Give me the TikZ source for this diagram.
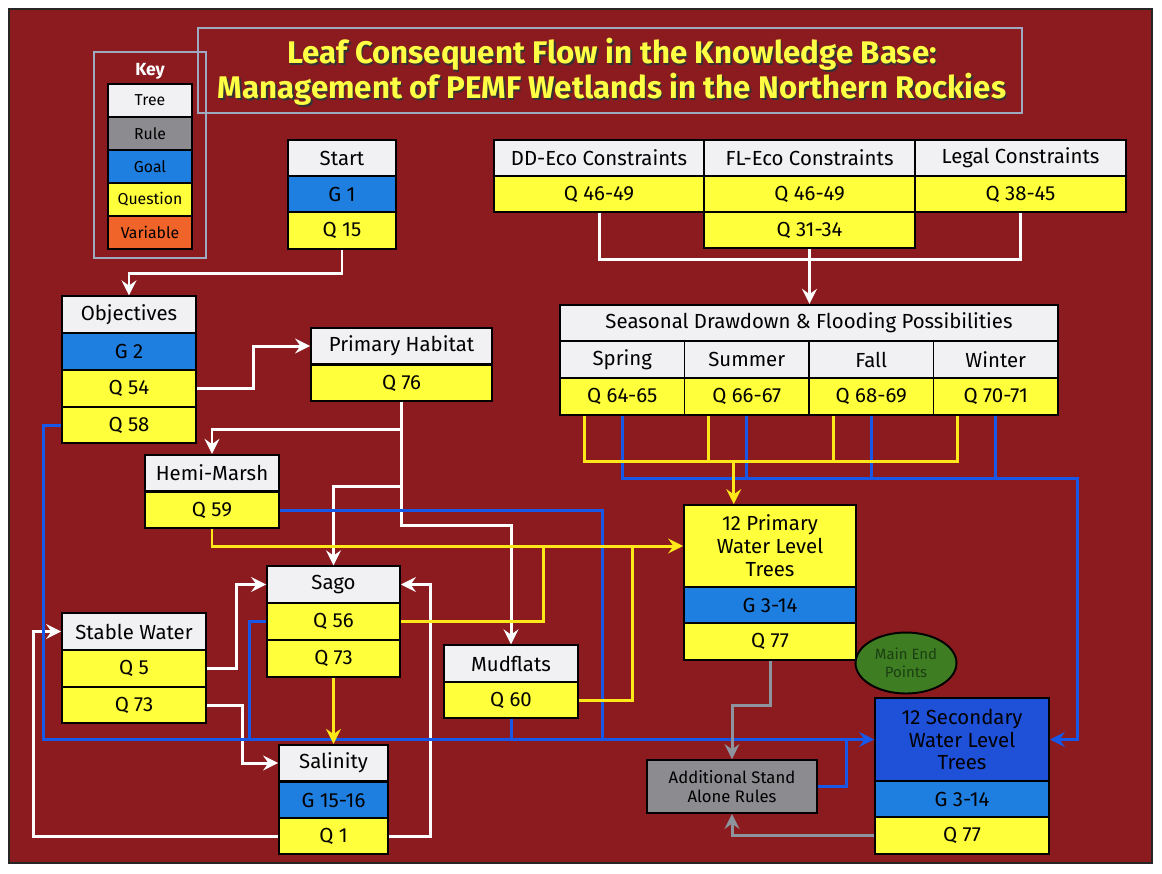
\documentclass[tikz,border=0pt]{standalone}
\usepackage{fontspec}
\setmainfont{Fira Sans}
\usetikzlibrary{arrows.meta,calc,shapes.geometric}

\definecolor{bgred}{HTML}{8C1B20}
\definecolor{treew}{HTML}{F1F1F3}
\definecolor{rulegray}{HTML}{8C8C90}
\definecolor{goalblue}{HTML}{1F7FE0}
\definecolor{qyellow}{HTML}{FFFF3C}
\definecolor{varorange}{HTML}{F0642A}
\definecolor{secblue}{HTML}{1E50D8}
\definecolor{endgreen}{HTML}{3E7D22}
\definecolor{endtext}{HTML}{1B3F12}
\definecolor{lineblue}{HTML}{1858E8}
\definecolor{lineyellow}{HTML}{FFE81A}
\definecolor{linegray}{HTML}{8E949E}
\definecolor{framegray}{HTML}{9EA9C2}
\definecolor{titleyellow}{HTML}{FFFF44}

\tikzset{
  cell/.style={draw=black, line width=1.1pt, inner sep=0pt, minimum height=0.73cm,
    font=\fontsize{11.6}{13}\selectfont, text=black, align=center},
  tree/.style={cell, fill=treew},
  rule/.style={cell, fill=rulegray},
  goal/.style={cell, fill=goalblue},
  quest/.style={cell, fill=qyellow},
  keycell/.style={minimum width=1.68cm, minimum height=0.66cm, font=\fontsize{9}{10}\selectfont},
  titletext/.style={font=\fontsize{17.8}{20}\selectfont\bfseries, align=center, text=titleyellow},
  tip/.style={-{Stealth[length=8.5pt,width=8.5pt,inset=3pt]}},
  wline/.style={draw=white, line width=1.7pt, tip},
  bline/.style={draw=lineblue, line width=1.7pt, tip},
  yline/.style={draw=lineyellow, line width=1.7pt, tip},
  gline/.style={draw=linegray, line width=1.7pt, tip}
}

\begin{document}
\begin{tikzpicture}[x=0.02cm,y=-0.02cm]
    \useasboundingbox (0,0) rectangle (1162,873);
    \fill[white] (0,0) rectangle (1162,873);
    \draw[fill=bgred,draw=black!85,line width=1pt] (9,9) rectangle (1152,863);

    % title and key
    \draw[framegray,line width=1.3pt] (198,28) rectangle (1022,113);
    \node[titletext,text=black!80] (titleshadow) at (613.5,73.5)
        {Leaf Consequent Flow in the Knowledge Base:\\Management of PEMF Wetlands in the Northern Rockies};
    \node[titletext] (title) at (612,72)
        {Leaf Consequent Flow in the Knowledge Base:\\Management of PEMF Wetlands in the Northern Rockies};
    \draw[framegray,line width=1.3pt] (94,52) rectangle (206,258);
    \node[font=\fontsize{10}{11}\selectfont\bfseries,text=white] (key) at (150,71) {Key};
    \node[tree,keycell] (ktree) at (150,100.5) {Tree};
    \node[rule,keycell] (krule) at (150,133.5) {Rule};
    \node[goal,keycell] (kgoal) at (150,166.5) {Goal};
    \node[quest,keycell] (kquest) at (150,199.5) {Question};
    \node[cell,fill=varorange,keycell] (kvar) at (150,232.5) {Variable};

    % trees
    \node[tree,minimum width=2.16cm] (start) at (342,158) {Start};
    \node[goal,minimum width=2.16cm] (g1) at (342,194) {G 1};
    \node[quest,minimum width=2.16cm] (q15) at (342,230.5) {Q 15};

    \node[tree,minimum width=2.68cm] (obj) at (129,314.5) {Objectives};
    \node[goal,minimum width=2.68cm] (g2) at (129,351.5) {G 2};
    \node[quest,minimum width=2.68cm] (q54) at (129,388.5) {Q 54};
    \node[quest,minimum width=2.68cm] (q58) at (129,425) {Q 58};

    \node[tree,minimum width=3.62cm] (ph) at (401.5,346) {Primary Habitat};
    \node[quest,minimum width=3.62cm] (q76) at (401.5,383) {Q 76};

    \node[tree,minimum width=2.68cm] (hemi) at (212,473) {Hemi-Marsh};
    \node[quest,minimum width=2.68cm] (q59) at (212,510) {Q 59};

    \node[tree,minimum width=2.66cm] (sago) at (333.5,584.5) {Sago};
    \node[quest,minimum width=2.66cm] (q56) at (333.5,621.5) {Q 56};
    \node[quest,minimum width=2.66cm] (q73s) at (333.5,658.5) {Q 73};

    \node[tree,minimum width=2.88cm] (sw) at (134,631.5) {Stable Water};
    \node[quest,minimum width=2.88cm] (q5) at (134,668.5) {Q 5};
    \node[quest,minimum width=2.88cm] (q73w) at (134,705) {Q 73};

    \node[tree,minimum width=2.18cm] (sal) at (333.5,763) {Salinity};
    \node[goal,minimum width=2.18cm] (g1516) at (333.5,800) {G 15-16};
    \node[quest,minimum width=2.18cm] (q1) at (333.5,836) {Q 1};

    \node[tree,minimum width=2.68cm] (mud) at (511,663.5) {Mudflats};
    \node[quest,minimum width=2.68cm] (q60) at (511,700) {Q 60};

    \node[quest,minimum width=3.44cm,minimum height=1.64cm] (pwl) at (770,546)
        {12 Primary\\Water Level\\Trees};
    \node[goal,minimum width=3.44cm] (pg) at (770,605) {G 3-14};
    \node[quest,minimum width=3.44cm] (pq77) at (770,641.5) {Q 77};

    \node[cell,fill=secblue,minimum width=3.48cm,minimum height=1.66cm] (sec) at (962,739.5)
        {12 Secondary\\Water Level\\Trees};
    \node[goal,minimum width=3.48cm] (sg) at (962,799) {G 3-14};
    \node[quest,minimum width=3.48cm] (sq77) at (962,835.5) {Q 77};

    \node[rule,minimum width=3.4cm,minimum height=1.06cm,font=\fontsize{9.5}{11}\selectfont] (add)
        at (732,786.5) {Additional Stand\\Alone Rules};
    \node[ellipse,draw=black,line width=1.1pt,fill=endgreen,minimum width=2.02cm,minimum height=1.22cm,
        inner sep=0pt,align=center,text=endtext,font=\fontsize{8.5}{10}\selectfont] (mep)
        at (906,663) {Main End\\Points};

    % constraints and seasons
    \node[tree,minimum width=4.2cm] (dd) at (599,158) {DD-Eco Constraints};
    \node[quest,minimum width=4.2cm] (dd2) at (599,194) {Q 46-49};
    \node[tree,minimum width=4.22cm] (fl) at (809.5,158) {FL-Eco Constraints};
    \node[quest,minimum width=4.22cm] (fl2) at (809.5,194) {Q 46-49};
    \node[quest,minimum width=4.22cm] (fl3) at (809.5,230) {Q 31-34};
    \node[tree,minimum width=4.22cm] (leg) at (1020.5,158) {Legal Constraints};
    \node[quest,minimum width=4.22cm] (leg2) at (1020.5,194) {Q 38-45};

    \node[tree,minimum width=9.96cm] (seas) at (809,323) {Seasonal Drawdown \& Flooding Possibilities};
    \node[tree,minimum width=2.49cm] (spr) at (622.25,359.5) {Spring};
    \node[tree,minimum width=2.49cm] (sum) at (746.75,359.5) {Summer};
    \node[tree,minimum width=2.49cm] (fal) at (871.25,359.5) {Fall};
    \node[tree,minimum width=2.49cm] (win) at (995.75,359.5) {Winter};
    \node[quest,minimum width=2.49cm] (spq) at (622.25,396.5) {Q 64-65};
    \node[quest,minimum width=2.49cm] (suq) at (746.75,396.5) {Q 66-67};
    \node[quest,minimum width=2.49cm] (faq) at (871.25,396.5) {Q 68-69};
    \node[quest,minimum width=2.49cm] (wiq) at (995.75,396.5) {Q 70-71};

    % white
    \draw[wline] (q15.south) -- ++(0,24) -| (obj.north);
    \draw[wline] (q54.east) -- ++(57,0) |- (ph.west);
    \draw[wline] (q76.south) -- ++(0,27) -| (hemi.north);
    \draw[wline] (q76.south) -- ++(0,84) -| (sago.north);
    \draw[wline] (q76.south) -- ++(0,123) -| (mud.north);
    \draw[wline] (q5.east) -- ++(30,0) |- (sago.west);
    \draw[wline] (q73w.east) -- ++(36,0) |- (sal.west);
    \draw[wline] (q1.west) -- ++(-245,0) |- (sw.west);
    \draw[wline] (q1.east) -- ++(42,0) |- (sago.east);
    \draw[wline,-] (dd2.south) -- ++(0,46) -| (leg2.south);
    \draw[wline] (fl3.south) -- (fl3.south |- seas.north);

    % blue
    \draw[bline] (q58.west) -- ++(-18,0) |- (sec.west);
    \draw[bline,-] (q56.west) -- ++(-17,0) coordinate (b1) -- (b1 |- sec.west);
    \draw[bline,-] (q59.east) -- ++(323,0) coordinate (b2) -- (b2 |- sec.west);
    \draw[bline,-] (q60.south) -- (q60.south |- sec.west);
    \draw[bline,-] (add.east) -- ++(29,0) coordinate (b3) -- (b3 |- sec.west);
    \draw[bline] (spq.south) -- ++(0,63) -- ++(455,0) |- (sec.east);
    \draw[bline,-] (suq.south) -- ++(0,63);
    \draw[bline,-] (faq.south) -- ++(0,63);
    \draw[bline,-] (wiq.south) -- ++(0,63);

    % yellow
    \draw[yline] (q59.south) |- (pwl.west);
    \draw[yline,-] (q56.east) -- ++(143,0) coordinate (y1) -- (y1 |- pwl.west);
    \draw[yline,-] (q60.east) -- ++(54,0) coordinate (y2) -- (y2 |- pwl.west);
    \draw[yline] (q73s.south) -- (sal.north);
    \draw[yline,-] ($(spq.south)+(-38,0)$) -- ++(0,46) -- ($(wiq.south)+(-38,46)$) -- ++(0,-46);
    \draw[yline,-] ($(suq.south)+(-38,0)$) -- ++(0,46);
    \draw[yline,-] ($(faq.south)+(-38,0)$) -- ++(0,46);
    \coordinate (yjoin) at ($(suq.south)+(-13,46)$);
    \draw[yline] (yjoin) -- (yjoin |- pwl.north);

    % gray
    \draw[gline] (pq77.south) -- ++(0,45) -| (add.north);
    \draw[gline] (sq77.west) -| (add.south);
\end{tikzpicture}
\end{document}
